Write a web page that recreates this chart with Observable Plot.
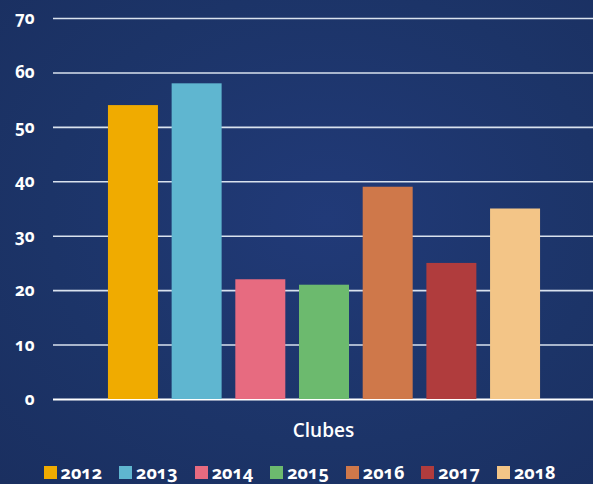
<!DOCTYPE html>
<html>
<head>
<meta charset="utf-8">
<script src="https://cdn.jsdelivr.net/npm/d3@7"></script>
<script src="https://cdn.jsdelivr.net/npm/@observablehq/plot@0.6"></script>
<style>
  html, body { margin: 0; padding: 0; }
  body {
    width: 593px; height: 484px; overflow: hidden;
    background: radial-gradient(ellipse at 55% 45%, #213a78 0%, #1c3468 60%, #1a2f60 100%);
    font-family: "Open Sans", sans-serif;
    font-variant-numeric: oldstyle-nums;
    font-feature-settings: "onum" 1;
  }
  #chart svg { display: block; background: transparent; }
  #legend {
    display: flex; justify-content: center; gap: 17px;
    margin-left: 6px; margin-top: 8px;
    color: #fff; font-weight: 700; font-size: 18px; line-height: 20px;
  }
  #legend .item { display: flex; align-items: center; gap: 4px; }
  #legend .sw { width: 13px; height: 13px; display: inline-block; }
</style>
</head>
<body>
<div id="chart"></div>
<div id="legend"></div>
<script>
const years = ["2012", "2013", "2014", "2015", "2016", "2017", "2018"];
const clubes = [54, 58, 22, 21, 39, 25, 35];
const colors = ["#f0ab00", "#5fb6d0", "#e76b80", "#6cba6e", "#cf784a", "#b03c3d", "#f3c587"];
const yTicks = [0, 10, 20, 30, 40, 50, 60, 70];
const xLabel = "Clubes";

const data = years.map((y, i) => ({year: y, value: clubes[i]}));

const plot = Plot.plot({
  width: 593,
  height: 454,
  marginLeft: 53,
  marginRight: 0,
  marginTop: 18,
  marginBottom: 55,
  style: {background: "transparent", color: "#fff", fontFamily: "Open Sans, sans-serif"},
  x: {domain: years, range: [57, 591], paddingInner: 0.215, paddingOuter: 0.8, round: false, axis: null},
  y: {domain: [0, 70], ticks: yTicks},
  color: {domain: years, range: colors},
  marks: [
    Plot.ruleY(yTicks.filter(d => d > 0), {stroke: "#d9e2ee", strokeWidth: 1.6}),
    Plot.ruleY([0], {stroke: "#ffffff", strokeWidth: 2}),
    Plot.barY(data, {x: "year", y: "value", fill: "year"}),
    Plot.axisY(yTicks, {tickSize: 0, tickPadding: 19, fontSize: 17, fontWeight: 700, fill: "#fff", label: null}),
    Plot.text([xLabel], {frameAnchor: "bottom", dy: 37, fontSize: 19, fontWeight: 600, fill: "#fff"})
  ]
});
document.getElementById("chart").appendChild(plot);
plot.querySelectorAll("text").forEach(t => t.style.fontVariantNumeric = "oldstyle-nums");

const legend = document.getElementById("legend");
years.forEach((y, i) => {
  const it = document.createElement("div");
  it.className = "item";
  const sw = document.createElement("span");
  sw.className = "sw";
  sw.style.background = colors[i];
  const tx = document.createElement("span");
  tx.textContent = y;
  it.appendChild(sw);
  it.appendChild(tx);
  legend.appendChild(it);
});
</script>
</body>
</html>
